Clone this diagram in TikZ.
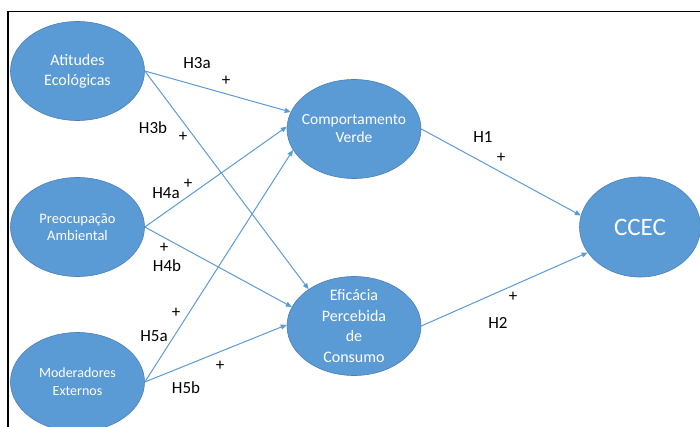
\documentclass[tikz,border=0pt]{standalone}
\usepackage{fontspec}
\setmainfont{Carlito}
\usetikzlibrary{shapes.geometric,arrows.meta}
\definecolor{nodefill}{HTML}{5B9BD5}
\definecolor{nodeedge}{HTML}{4A7EBB}
\definecolor{arrowc}{HTML}{5B9BD5}
\begin{document}
\begin{tikzpicture}[x=1pt,y=-1pt,
  var/.style={ellipse,fill=nodefill,draw=nodeedge,line width=0.6pt,inner sep=0pt,
     minimum width=134pt,minimum height=99pt},
  vtext/.style={text=white,align=center,font=\fontsize{15}{19}\selectfont},
  lab/.style={text=black,inner sep=0pt,font=\fontsize{17}{19}\selectfont},
  conn/.style={draw=arrowc,line width=1pt,-{Triangle[length=6pt,width=5pt]}}]
\useasboundingbox (0,0) rectangle (700,427);
\begin{scope}
\clip (0,0) rectangle (700,427);
\draw[line width=1.3pt] (8,440) -- (8,11.5) -- (720,11.5);
\node[var] (ati) at (77.5,71) {};
\node[var] (pre) at (77.5,227) {};
\node[var] (mod) at (77.5,382) {};
\node[var] (com) at (354,129) {};
\node[var] (efi) at (354,326) {};
\node[var,minimum width=121pt,minimum height=100pt] (cce) at (640,227) {};
\end{scope}
\node[vtext,font=\fontsize{16}{20}\selectfont] at (ati) {Atitudes\\Ecológicas};
\node[vtext,font=\fontsize{14.5}{17}\selectfont] at (pre) {Preocupação\\Ambiental};
\node[vtext,font=\fontsize{14}{18}\selectfont] at (mod) {Moderadores\\Externos};
\node[vtext,font=\fontsize{15.5}{18}\selectfont] at (com) {Comportamento\\Verde};
\node[vtext,font=\fontsize{16}{20.5}\selectfont] at (efi) {Eficácia\\Percebida\\de\\Consumo};
\node[vtext,font=\fontsize{25}{30}\selectfont] at (cce) {CCEC};

\draw[conn] (ati.east) -- (com.165);
\draw[conn] (ati.east) -- (efi.141);
\draw[conn] (pre.east) -- (com.178);
\draw[conn] (pre.east) -- (efi.163);
\draw[conn] (mod.east) -- (com.199);
\draw[conn] (mod.east) -- (efi.179);
\draw[conn] (com.east) -- (cce.169);
\draw[conn] (efi.east) -- (cce.206);

\node[lab] (l3a) at (197,63) {H3a};
\node[lab] (p3a) at (226,81) {+};
\node[lab] (l3b) at (153,128) {H3b};
\node[lab] (p3b) at (183,137) {+};
\node[lab] (l4a) at (166,193) {H4a};
\node[lab] (p4a) at (188,184) {+};
\node[lab] (p4b) at (164,248) {+};
\node[lab] (l4b) at (167,266) {H4b};
\node[lab] (p5a) at (176,313) {+};
\node[lab] (l5a) at (154,336) {H5a};
\node[lab] (p5b) at (220,366) {+};
\node[lab] (l5b) at (186,388) {H5b};
\node[lab] (l1) at (483,137) {H1};
\node[lab] (p1) at (501,158) {+};
\node[lab] (p2) at (513,297) {+};
\node[lab] (l2) at (498,323) {H2};
\end{tikzpicture}
\end{document}
